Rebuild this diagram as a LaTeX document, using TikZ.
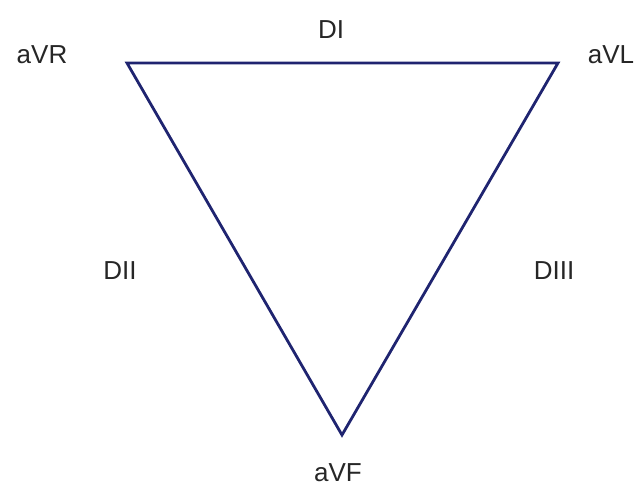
\documentclass[tikz,border=0pt]{standalone}
\usepackage{fontspec}
\setmainfont{Liberation Sans}
\usepackage{tikz}
\usetikzlibrary{positioning}
\definecolor{LeadBlue}{HTML}{1F2470}

\begin{document}
\begin{tikzpicture}[x=1pt,y=-1pt,
    lead/.style={font=\fontsize{26}{30}\selectfont,text=black!85,inner sep=0pt},
    side/.style={draw=LeadBlue,line width=2.8pt,line join=miter}]
        \useasboundingbox (0,0) rectangle (641,486);
        % vertices of the triangle
        \coordinate (R) at (127,63);
        \coordinate (L) at (558,63);
        \coordinate (F) at (342,435);
        \draw[side] (R) -- (L) -- (F) -- cycle;
        % electrode labels
        \node[lead] (aVR) at (42,55) {aVR};
        \node[lead] (aVL) at (611,55) {aVL};
        \node[lead] (aVF) at (338,473) {aVF};
        % lead labels
        \node[lead] (DI) at (331,30) {DI};
        \node[lead] (DII) at (120,271) {DII};
        \node[lead] (DIII) at (554,271) {DIII};
\end{tikzpicture}
\end{document}
